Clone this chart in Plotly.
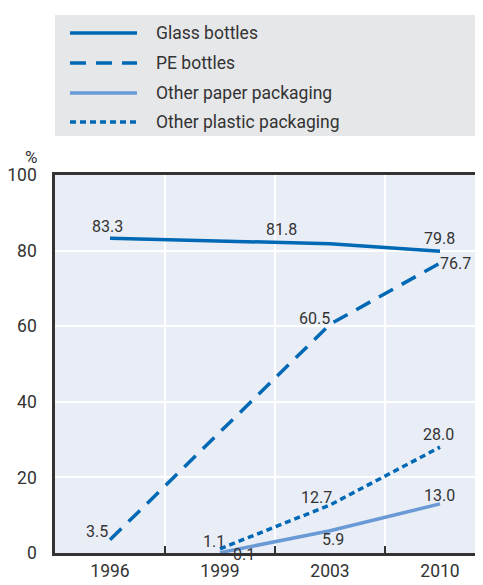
import plotly.graph_objects as go

years = ["1996", "1999", "2003", "2010"]
glass = [83.3, None, 81.8, 79.8]
pe = [3.5, None, 60.5, 76.7]
paper = [None, 0.1, 5.9, 13.0]
plastic = [None, 1.1, 12.7, 28.0]
names = ["Glass bottles", "PE bottles", "Other paper packaging", "Other plastic packaging"]

DARK = "#0068B4"
LIGHT = "#6A9AD6"
INK = "#333333"
FONT = "Roboto, Liberation Sans, sans-serif"

# the page body has an 8px margin, so the figure is drawn 8px in from the corner
OFF = 8
W, H = 483 - OFF, 585 - OFF
ML, MT = 55 - OFF, 175 - OFF
MB = H - (553 - OFF)
PW, PH = W - ML, H - MT - MB

styles = [
    dict(color=DARK, width=3.5, dash="solid"),
    dict(color=DARK, width=3.5, dash="16px,10px"),
    dict(color=LIGHT, width=3.5, dash="solid"),
    dict(color=DARK, width=3.5, dash="6px,4px"),
]

# label offsets (px) per point: (dx, dy) relative to the point, screen-style
offsets = [
    [(-3, -12), None, (-49, -14), (-1, -13)],
    [(-13, -8), None, (-16, -6), (15, 0)],
    [None, (24, 2), (3, 9), (-1, -8)],
    [None, (-6, -7), (-14, -7), (-2, -13)],
]

fig = go.Figure()
series = [glass, pe, paper, plastic]
annotations = []
for s, name, st, offs in zip(series, names, styles, offsets):
    fig.add_trace(go.Scatter(x=years, y=s, name=name, mode="lines", line=st,
                             connectgaps=True, showlegend=False))
    for i, (v, o) in enumerate(zip(s, offs)):
        if v is None or o is None:
            continue
        annotations.append(dict(xref="x", yref="y", x=i, y=v, text=f"{v:.1f}", showarrow=False,
                                xshift=o[0], yshift=-o[1],
                                font=dict(size=16, color=INK, family=FONT)))


def px(x, y):
    # window pixel -> paper coords
    return (x - OFF - ML) / PW, (H - MB - (y - OFF)) / PH


# manual legend box
x0, y0 = px(55, 15)
x1, y1 = px(483, 136)
shapes = [dict(type="rect", xref="paper", yref="paper", x0=x0, y0=y1, x1=x1, y1=y0,
               fillcolor="#E6E7E9", line=dict(width=0), layer="below")]
rows = [33, 63, 93, 122]
for name, st, ry in zip(names, styles, rows):
    lx0, ly = px(70, ry)
    lx1, _ = px(137, ry)
    shapes.append(dict(type="line", xref="paper", yref="paper", x0=lx0, x1=lx1, y0=ly, y1=ly,
                       line=st))
    tx, _ = px(154, ry)
    annotations.append(dict(xref="paper", yref="paper", x=tx, y=ly, text=name, showarrow=False,
                            xanchor="left", yanchor="middle",
                            font=dict(size=17.5, color=INK, family=FONT)))

pcx, pcy = px(31, 157)
annotations.append(dict(xref="paper", yref="paper", x=pcx, y=pcy, text="%", showarrow=False,
                        xanchor="center", yanchor="middle",
                        font=dict(size=17, color=INK, family=FONT)))

fig.update_layout(
    width=W, height=H,
    margin=dict(l=ML, r=0, t=MT, b=MB, autoexpand=False),
    paper_bgcolor="white", plot_bgcolor="#E9EEF6",
    font=dict(family=FONT, size=17, color=INK),
    annotations=annotations, shapes=shapes,
    showlegend=False,
)
fig.update_xaxes(type="category", range=[-0.5, -0.5 + PW / 110], tickson="boundaries",
                 automargin=False,
                 showgrid=True, gridcolor="white", gridwidth=1.5,
                 ticks="inside", ticklen=7, tickcolor=INK, tickwidth=2,
                 showline=True, linecolor=INK, linewidth=2.5, mirror=True,
                 tickfont=dict(size=17.5, color=INK))
fig.update_yaxes(range=[0, 100], dtick=20, showgrid=True, gridcolor="white", gridwidth=1.5,
                 automargin=False,
                 zeroline=False, showline=True, linecolor=INK, linewidth=2.5,
                 ticks="", ticklabelstandoff=12, tickfont=dict(size=17.5, color=INK))

fig.write_html("out.html")
